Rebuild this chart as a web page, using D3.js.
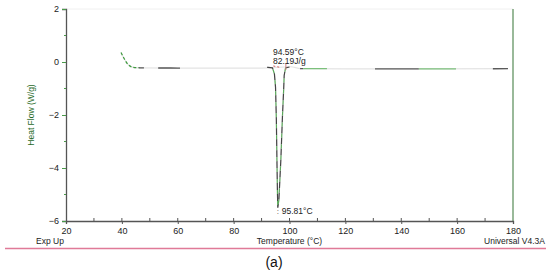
<!DOCTYPE html>
<meta charset="utf-8">
<head>
    <title>DSC Heat Flow</title>
    <script type="text/javascript" src="https://d3js.org/d3.v7.min.js"></script>
    <style>
        html, body {
            margin: 0;
            padding: 0;
            background: white;
        }
        text {
            font-family: "Liberation Sans", Arial, sans-serif;
        }
    </style>
</head>
<body>
    <div id="chart"></div>
    <script>
        // data
        var tempC = [39.7, 40.8, 42.2, 44, 46.5, 60, 80, 90, 92.3, 93.9, 94.6, 95.0, 95.3, 95.5, 95.7, 95.81, 96.2, 96.9, 97.5, 97.9, 98.1, 98.6, 100.4, 104, 130, 150, 178.2];
        var heatFlow = [0.36, 0.13, -0.09, -0.2, -0.22, -0.23, -0.23, -0.23, -0.2, -0.22, -0.45, -0.95, -2.2, -3.7, -5.0, -5.5, -5.2, -3.7, -2.0, -1.07, -0.5, -0.22, -0.18, -0.25, -0.26, -0.26, -0.25];

        // pieces of the trace that show dark or green in the original
        var darkRanges = [[46.1, 47.9], [53, 60.8], [103.8, 104.9], [130.6, 146.3], [172.8, 178.2]];
        var greenRanges = [[39.7, 46.1], [104.9, 113.4], [146.3, 159.6]];
        var peakRange = [92, 100];

        var yTicks = [2, 0, -2, -4, -6];
        var xTicks = [20, 40, 60, 80, 100, 120, 140, 160, 180];

        var peakOnset = "94.59°C";
        var peakEnthalpy = "82.19J/g";
        var peakMin = "95.81°C";

        var width = 550, height = 275;
        var margin = {top: 9, right: 37, bottom: 54, left: 66};

        var svg = d3.select("#chart").append("svg")
            .attr("width", width)
            .attr("height", height);

        var x = d3.scaleLinear().domain([20, 180]).range([margin.left, width - margin.right]);
        var y = d3.scaleLinear().domain([-6, 2]).range([height - margin.bottom, margin.top]);

        // faint top border and green right border
        svg.append("line")
            .attr("x1", x(20)).attr("x2", x(180))
            .attr("y1", y(2)).attr("y2", y(2))
            .attr("stroke", "#f0f0f0");
        svg.append("line")
            .attr("x1", x(180)).attr("x2", x(180))
            .attr("y1", y(2)).attr("y2", y(-6))
            .attr("stroke", "#77a277").attr("stroke-width", 1.5);

        // x axis
        var xAxis = svg.append("g")
            .attr("transform", "translate(0," + y(-6) + ")")
            .call(d3.axisBottom(x).tickValues(xTicks).tickSize(3).tickPadding(4));
        xAxis.select(".domain").attr("stroke", "#555").attr("stroke-width", 1.3);
        xAxis.selectAll(".tick line").attr("stroke", "#555");
        xAxis.selectAll("text").attr("font-size", 9).attr("fill", "#222")
            .attr("font-family", "Liberation Sans, Arial, sans-serif");
        // minor ticks pointing up
        svg.append("g").selectAll("line")
            .data(d3.range(30, 180, 10))
            .enter().append("line")
            .attr("x1", d => x(d)).attr("x2", d => x(d))
            .attr("y1", y(-6)).attr("y2", y(-6) - 3)
            .attr("stroke", "#555");

        // y axis
        var yAxis = svg.append("g")
            .attr("transform", "translate(" + x(20) + ",0)")
            .call(d3.axisLeft(y).tickValues(yTicks).tickSize(4).tickPadding(3)
                .tickFormat(d => d < 0 ? "\u2212" + Math.abs(d) : d));
        yAxis.select(".domain").attr("stroke", "#555").attr("stroke-width", 1.3);
        yAxis.selectAll(".tick line").attr("stroke", "#4a9a4a");
        yAxis.selectAll("text").attr("font-size", 9).attr("fill", "#222")
            .attr("font-family", "Liberation Sans, Arial, sans-serif");
        svg.append("g").selectAll("line")
            .data([1, -1, -3, -5])
            .enter().append("line")
            .attr("x1", x(20)).attr("x2", x(20) - 2)
            .attr("y1", d => y(d)).attr("y2", d => y(d))
            .attr("stroke", "#4a9a4a");

        // trace
        var pts = tempC.map((t, i) => [t, heatFlow[i]]);
        var line = d3.line().x(d => x(d[0])).y(d => y(d[1])).curve(d3.curveMonotoneX);
        var peakLine = d3.line().x(d => x(d[0])).y(d => y(d[1]));

        // points of the trace clipped to a temperature range
        function interp(r) {
            var out = [];
            var f = d3.scaleLinear().domain(tempC).range(heatFlow);
            out.push([r[0], f(r[0])]);
            pts.forEach(p => { if (p[0] > r[0] && p[0] < r[1]) out.push(p); });
            out.push([r[1], f(r[1])]);
            return out;
        }

        svg.append("path")
            .attr("d", line(pts.filter(p => p[0] <= peakRange[0] || p[0] >= peakRange[1])))
            .attr("fill", "none")
            .attr("stroke", "#e4e4e4")
            .attr("stroke-width", 1.2);

        darkRanges.forEach(function(r) {
            svg.append("path").attr("d", line(interp(r)))
                .attr("fill", "none").attr("stroke", "#5a5a5a").attr("stroke-width", 1.4);
        });
        greenRanges.forEach(function(r, i) {
            var p = svg.append("path").attr("d", line(interp(r)))
                .attr("fill", "none").attr("stroke", "#7cc07c").attr("stroke-width", 1.2);
            if (i == 0) p.attr("stroke", "#3f9a3f").attr("stroke-dasharray", "3,2");
        });

        // the melting peak, two-tone dashed
        var peakPts = interp(peakRange);
        svg.append("path").attr("d", peakLine(peakPts))
            .attr("fill", "none").attr("stroke", "#e4e4e4").attr("stroke-width", 1);
        svg.append("path").attr("d", peakLine(peakPts))
            .attr("fill", "none").attr("stroke", "#444").attr("stroke-width", 1.2)
            .attr("stroke-dasharray", "7,4");
        svg.append("path").attr("d", peakLine(peakPts))
            .attr("fill", "none").attr("stroke", "#5aaa5a").attr("stroke-width", 1.2)
            .attr("stroke-dasharray", "4,7").attr("stroke-dashoffset", -7);

        // integration limit marks
        svg.append("line")
            .attr("x1", x(94.2)).attr("x2", x(96.5))
            .attr("y1", y(-0.15)).attr("y2", y(-0.2))
            .attr("stroke", "#d06060").attr("stroke-dasharray", "2,2");
        svg.append("line")
            .attr("x1", x(98.7)).attr("x2", x(98.7))
            .attr("y1", y(-0.05)).attr("y2", y(-0.3))
            .attr("stroke", "#d08080");

        // annotations
        svg.append("text").attr("x", x(94.1)).attr("y", y(0.25))
            .attr("font-size", 8.5).attr("fill", "#222").text(peakOnset);
        svg.append("text").attr("x", x(94.1)).attr("y", y(-0.07))
            .attr("font-size", 8.5).attr("fill", "#222").text(peakEnthalpy);
        svg.append("text").attr("x", x(95.81) + 4).attr("y", y(-5.75))
            .attr("font-size", 8.5).attr("fill", "#222").text(peakMin);
        svg.append("text").attr("x", x(95.81) - 1).attr("y", y(-5.75))
            .attr("font-size", 8).attr("fill", "#444").text(":");

        // axis titles and footer text
        svg.append("text")
            .attr("transform", "translate(34," + y(-2) + ") rotate(-90)")
            .attr("text-anchor", "middle")
            .attr("font-size", 8.5).attr("fill", "#1f6a1f")
            .text("Heat Flow (W/g)");
        svg.append("text").attr("x", x(100)).attr("y", 244)
            .attr("text-anchor", "middle").attr("font-size", 8.5).attr("fill", "#222")
            .text("Temperature (°C)");
        svg.append("text").attr("x", 36).attr("y", 244)
            .attr("font-size", 8.5).attr("fill", "#222").text("Exp Up");
        svg.append("text").attr("x", 545).attr("y", 244)
            .attr("text-anchor", "end").attr("font-size", 8.5).attr("fill", "#222")
            .text("Universal V4.3A");

        svg.append("line")
            .attr("x1", 5).attr("x2", 546)
            .attr("y1", 248.5).attr("y2", 248.5)
            .attr("stroke", "#e07a98").attr("stroke-width", 1.6);

        svg.append("text").attr("x", 274).attr("y", 267)
            .attr("text-anchor", "middle")
            .attr("font-family", "Liberation Serif, Times New Roman, serif")
            .attr("font-size", 14).attr("fill", "#111")
            .text("(a)");
    </script>
</body>
</html>
